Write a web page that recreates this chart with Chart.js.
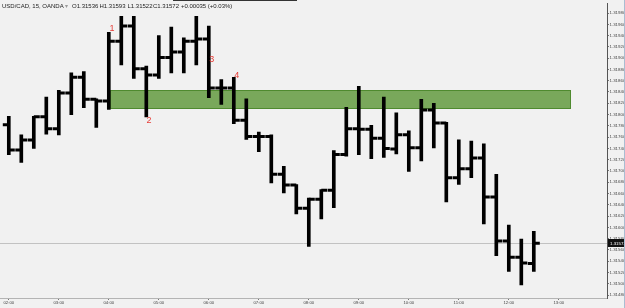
<!DOCTYPE html>
<html>
<head>
<meta charset="utf-8">
<script src="https://cdn.jsdelivr.net/npm/chart.js@4.4.1/dist/chart.umd.min.js"></script>
<style>
  html, body { margin: 0; padding: 0; background: #f1f1f1; overflow: hidden; }
  canvas { display: block; }
</style>
</head>
<body>
<canvas id="myChart" width="625" height="308"></canvas>
<script>
'use strict'
/* USD/CAD 15분봉 OHLC - index 0 = 02:00, one bar every 15 minutes */

// hour labels on the time axis (one every 4 bars)
const hourLabels = ['02:00', '03:00', '04:00', '05:00', '06:00', '07:00',
  '08:00', '09:00', '10:00', '11:00', '12:00', '13:00'];

const opens = [1.31782, 1.31737, 1.31755, 1.31796, 1.31775, 1.31838, 1.31866, 1.31827, 1.31824, 1.31930,
  1.31957, 1.31881, 1.31870, 1.31901, 1.31911, 1.31930, 1.31934, 1.31847, 1.31847, 1.31790,
  1.31761, 1.31761, 1.31694, 1.31675, 1.31634, 1.31650, 1.31666, 1.31729, 1.31775, 1.31774,
  1.31758, 1.31739, 1.31764, 1.31741, 1.31808, 1.31785, 1.31688, 1.31704, 1.31723, 1.31654,
  1.31576, 1.31547, 1.31536];
const highs = [1.31797, 1.31764, 1.31797, 1.31831, 1.31843, 1.31874, 1.31876, 1.31828, 1.31946, 1.31974,
  1.31974, 1.31886, 1.31940, 1.31955, 1.31936, 1.31974, 1.31957, 1.31862, 1.31866, 1.31828,
  1.31769, 1.31764, 1.31708, 1.31676, 1.31652, 1.31667, 1.31736, 1.31813, 1.31850, 1.31781,
  1.31831, 1.31803, 1.31771, 1.31827, 1.31820, 1.31786, 1.31755, 1.31753, 1.31748, 1.31694,
  1.31604, 1.31579, 1.31593];
const lows = [1.31729, 1.31715, 1.31740, 1.31765, 1.31764, 1.31800, 1.31812, 1.31777, 1.31809, 1.31888,
  1.31864, 1.31796, 1.31864, 1.31874, 1.31874, 1.31888, 1.31830, 1.31818, 1.31784, 1.31756,
  1.31734, 1.31679, 1.31661, 1.31624, 1.31566, 1.31615, 1.31635, 1.31726, 1.31729, 1.31722,
  1.31724, 1.31730, 1.31699, 1.31718, 1.31741, 1.31645, 1.31676, 1.31688, 1.31606, 1.31550,
  1.31522, 1.31498, 1.31522];
const closes = [1.31737, 1.31755, 1.31796, 1.31775, 1.31838, 1.31866, 1.31827, 1.31824, 1.31930, 1.31957,
  1.31881, 1.31870, 1.31901, 1.31911, 1.31930, 1.31934, 1.31847, 1.31847, 1.31790, 1.31761,
  1.31761, 1.31694, 1.31675, 1.31634, 1.31650, 1.31666, 1.31729, 1.31775, 1.31774, 1.31758,
  1.31740, 1.31764, 1.31741, 1.31808, 1.31785, 1.31688, 1.31704, 1.31723, 1.31654, 1.31576,
  1.31547, 1.31537, 1.31572];

// price axis labels
const priceTicks = [1.31480, 1.31500, 1.31520, 1.31540, 1.31560, 1.31580, 1.31600, 1.31620, 1.31640,
  1.31660, 1.31680, 1.31700, 1.31720, 1.31740, 1.31760, 1.31780, 1.31800, 1.31820, 1.31840,
  1.31860, 1.31880, 1.31900, 1.31920, 1.31940, 1.31960, 1.31980];

// supply/demand zone (green box), in bar index / price
const zoneFrom = 8.1, zoneTo = 45;
const zoneLow = 1.31810, zoneHigh = 1.31844;

// red swing labels 1-4
const markText = ['1', '2', '3', '4'];
const markX = [8.26, 11.22, 16.23, 18.23];
const markY = [1.31952, 1.31789, 1.31897, 1.31870];

const last = closes.length - 1;
const lastPrice = closes[last];

const ctx = document.getElementById('myChart').getContext('2d');

// 배경, 존, 현재가 라인, 라벨 그리기
const chartDeco = {
  id: 'chartDeco',
  beforeDraw(chart) {
    const c = chart.ctx;
    c.save();
    c.fillStyle = '#f1f1f1';
    c.fillRect(0, 0, chart.width, chart.height);
    c.restore();
  },
  beforeDatasetsDraw(chart) {
    const c = chart.ctx, area = chart.chartArea;
    const x = chart.scales.x, y = chart.scales.y;
    c.save();
    // zone
    const x1 = Math.round(x.getPixelForValue(zoneFrom)), x2 = Math.round(x.getPixelForValue(zoneTo));
    const y1 = Math.round(y.getPixelForValue(zoneHigh)), y2 = Math.round(y.getPixelForValue(zoneLow));
    c.fillStyle = '#79a85b';
    c.fillRect(x1, y1, x2 - x1, y2 - y1);
    c.strokeStyle = '#4f8a2f';
    c.lineWidth = 1;
    c.strokeRect(x1 + 0.5, y1 + 0.5, x2 - x1 - 1, y2 - y1 - 1);
    // last price line
    const yp = Math.round(y.getPixelForValue(lastPrice)) + 0.5;
    c.strokeStyle = '#c2c2c2';
    c.beginPath();
    c.moveTo(area.left, yp);
    c.lineTo(area.right, yp);
    c.stroke();
    c.restore();
  },
  afterDatasetsDraw(chart) {
    const c = chart.ctx;
    const x = chart.scales.x, y = chart.scales.y;
    c.save();
    c.fillStyle = '#e63c36';
    c.font = '9px "Liberation Sans", Arial, sans-serif';
    c.textAlign = 'center';
    c.textBaseline = 'middle';
    markText.forEach((t, i) => {
      c.fillText(t, x.getPixelForValue(markX[i]), y.getPixelForValue(markY[i]));
    });
    c.restore();
  },
  afterDraw(chart) {
    const c = chart.ctx, area = chart.chartArea;
    const y = chart.scales.y;
    c.save();
    // header
    const chg = closes[last] - closes[last - 1];
    const pct = chg / closes[last - 1] * 100;
    c.textBaseline = 'middle';
    c.fillStyle = '#222';
    c.font = '6px "Liberation Sans", Arial, sans-serif';
    c.fillText('USD/CAD, 15, OANDA', 2, 6);
    c.fillStyle = '#999';
    c.fillText('▾', 64.5, 6);
    c.fillStyle = '#222';
    c.fillText('O' + opens[last].toFixed(5), 72, 6);
    c.fillText('H' + highs[last].toFixed(5), 99.5, 6);
    c.fillText('L' + lows[last].toFixed(5), 127.5, 6);
    c.fillText('C' + closes[last].toFixed(5), 153, 6);
    c.fillText((chg >= 0 ? '+' : '') + chg.toFixed(5) + ' (' + (pct >= 0 ? '+' : '') + pct.toFixed(2) + '%)', 181, 6);
    // toolbar edge at the top
    c.strokeStyle = '#333';
    c.lineWidth = 1;
    c.beginPath();
    c.moveTo(173, 0.5);
    c.lineTo(297, 0.5);
    c.stroke();
    // current price box
    const yp = Math.round(y.getPixelForValue(lastPrice));
    c.fillStyle = '#111';
    c.fillRect(area.right + 1, yp - 4, chart.width - area.right - 2, 8);
    c.fillStyle = '#fff';
    c.font = '4.4px "Liberation Sans", Arial, sans-serif';
    c.fillText(lastPrice.toFixed(5), area.right + 3, yp + 0.3);
    // window edge
    c.strokeStyle = '#a9bdd2';
    c.beginPath();
    c.moveTo(chart.width - 0.5, 0);
    c.lineTo(chart.width - 0.5, chart.height);
    c.stroke();
    c.restore();
  }
};

const xMin = -8.8 / 12.5;
const xMax = xMin + 607 / 12.5;
const yMin = 1.31480 - 3 / 57000;
const yMax = yMin + 298 / 57000;

new Chart(ctx, {
  data: {
    datasets: [
      {
        type: 'bar', // high-low 막대
        data: highs.map((h, i) => ({ x: i, y: [lows[i], h] })),
        backgroundColor: '#000',
        borderWidth: 0,
        barThickness: 3,
        grouped: false,
      },
      {
        type: 'line', // open tick (왼쪽)
        data: opens.map((v, i) => ({ x: i, y: v })),
        showLine: false,
        pointStyle: 'dash',
        pointRadius: 6,
        pointHoverRadius: 6,
        pointRotation: 180,
        pointBorderWidth: 3,
        pointBorderColor: '#000',
        pointBackgroundColor: '#000',
      },
      {
        type: 'line', // close tick (오른쪽)
        data: closes.map((v, i) => ({ x: i, y: v })),
        showLine: false,
        pointStyle: 'dash',
        pointRadius: 6,
        pointHoverRadius: 6,
        pointRotation: 0,
        pointBorderWidth: 3,
        pointBorderColor: '#000',
        pointBackgroundColor: '#000',
      },
    ],
  },
  options: {
    responsive: false,
    animation: false,
    events: [],
    layout: { padding: 0, autoPadding: false },
    plugins: { legend: { display: false }, tooltip: { enabled: false } },
    scales: {
      x: {
        type: 'linear',
        position: 'bottom',
        offset: false,
        min: xMin,
        max: xMax,
        afterBuildTicks: (s) => { s.ticks = hourLabels.map((_, i) => ({ value: i * 4 })); },
        afterFit: (s) => { s.height = 10; },
        border: { display: true, color: '#b4b4b4', width: 1 },
        grid: { offset: false, drawOnChartArea: false, drawTicks: true, tickLength: 2, color: '#777' },
        ticks: {
          autoSkip: false,
          maxRotation: 0,
          padding: 0.5,
          color: '#444',
          font: { family: 'Liberation Sans', size: 4.3 },
          callback: (v, i) => hourLabels[i],
        },
      },
      y: {
        type: 'linear',
        position: 'right',
        min: yMin,
        max: yMax,
        afterBuildTicks: (s) => { s.ticks = priceTicks.map(v => ({ value: v })); },
        afterFit: (s) => { s.width = 18; },
        border: { display: true, color: '#555', width: 1 },
        grid: { drawOnChartArea: false, drawTicks: true, tickLength: 2, color: '#777' },
        ticks: {
          autoSkip: false,
          padding: 0.5,
          color: '#444',
          font: { family: 'Liberation Sans', size: 4.4 },
          callback: (v) => v.toFixed(5),
        },
      },
    },
  },
  plugins: [chartDeco],
});
</script>
</body>
</html>
